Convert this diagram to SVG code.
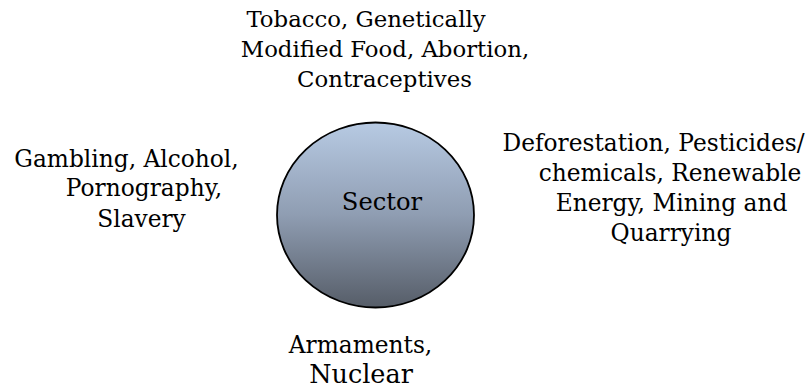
<svg xmlns="http://www.w3.org/2000/svg" width="806" height="391" viewBox="0 0 806 391">
<defs>
<linearGradient id="g" x1="0" y1="0" x2="0" y2="1">
<stop offset="0" stop-color="#b7cae3"/>
<stop offset="0.5" stop-color="#8f9db2"/>
<stop offset="1" stop-color="#565d68"/>
</linearGradient>
<style>
text{font-family:"DejaVu Serif","Liberation Serif",serif;font-size:23.3px;fill:#000;text-anchor:middle}
.t{font-size:22.8px}
.s{font-size:24.2px}
.n{font-size:25.5px}
</style>
</defs>
<rect width="806" height="391" fill="#fff"/>
<g id="connectors"/>
<g id="sector">
<ellipse cx="375.5" cy="215" rx="98.5" ry="92.5" fill="url(#g)" stroke="#000" stroke-width="1.8"/>
<text class="s" x="382" y="210">Sector</text>
</g>
<g id="top" class="t">
<text class="t" x="366" y="27">Tobacco, Genetically</text>
<text class="t" x="385" y="57">Modified Food, Abortion,</text>
<text class="t" x="384.5" y="87">Contraceptives</text>
</g>
<g id="left">
<text x="126.5" y="167">Gambling, Alcohol,</text>
<text x="144" y="196">Pornography,</text>
<text x="141.5" y="227">Slavery</text>
</g>
<g id="right">
<text x="653.5" y="151">Deforestation, Pesticides/</text>
<text x="670" y="181">chemicals, Renewable</text>
<text x="671.5" y="211">Energy, Mining and</text>
<text x="671" y="241">Quarrying</text>
</g>
<g id="bottom">
<text x="360.5" y="353">Armaments,</text>
<text class="n" x="361" y="383">Nuclear</text>
</g>
</svg>
